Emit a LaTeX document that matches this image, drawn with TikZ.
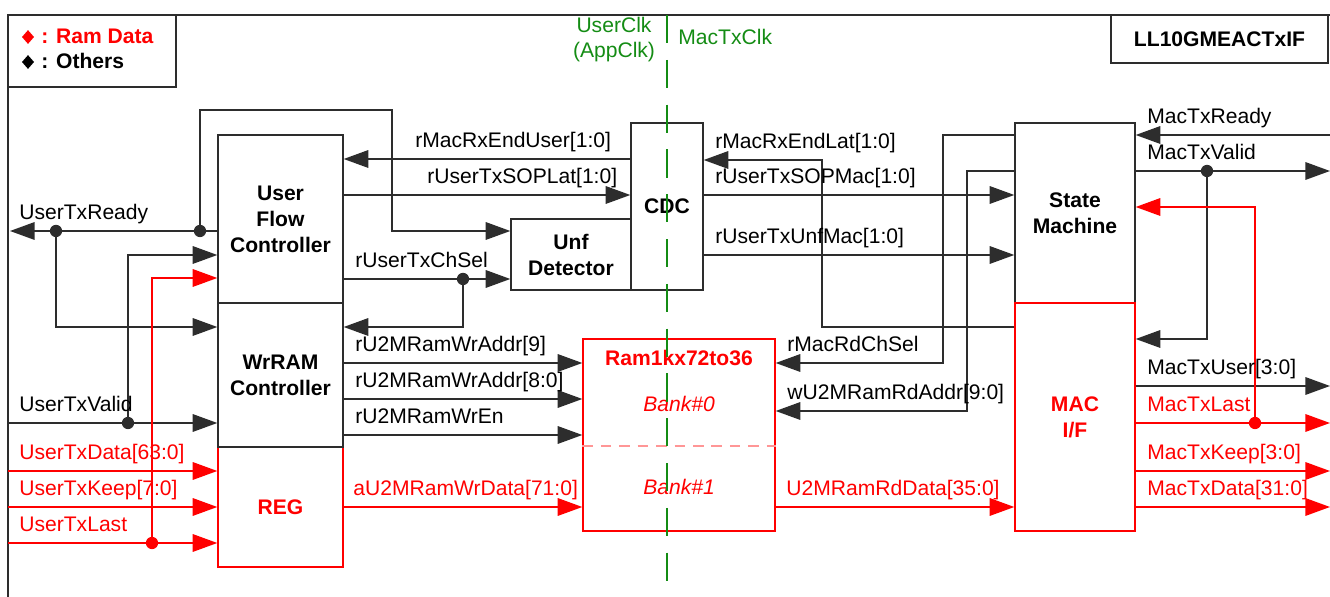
\documentclass[tikz,border=0pt]{standalone}
\usepackage{fontspec}
\setmainfont{Liberation Sans}
\usetikzlibrary{arrows.meta,shapes.geometric}
\definecolor{wcol}{RGB}{45,45,45}
\definecolor{rcol}{RGB}{255,0,0}
\definecolor{gcol}{RGB}{20,140,20}
\definecolor{pcol}{RGB}{255,150,150}
\begin{document}
\begin{tikzpicture}[x=0.02cm,y=-0.02cm,
  font=\fontsize{12}{14.8}\selectfont,
  blk/.style={draw=wcol, line width=0.8pt, inner sep=0pt, align=center, font=\fontsize{12}{14.8}\selectfont\bfseries},
  rblk/.style={blk, draw=rcol, text=rcol},
  wire/.style={draw=wcol, line width=0.8pt},
  arr/.style={wire, -{Triangle[length=14pt,width=10pt]}},
  rwire/.style={draw=rcol, line width=0.8pt},
  rarr/.style={rwire, -{Triangle[length=14pt,width=10pt]}},
  lbl/.style={anchor=base west, inner sep=0pt, text=black},
  rlbl/.style={lbl, text=rcol},
  dot/.style={circle, fill=wcol, inner sep=0pt, minimum size=7pt},
  rdot/.style={dot, fill=rcol},
  lgmark/.style={diamond, inner sep=0pt, minimum width=7pt, minimum height=8pt}
]
\useasboundingbox (0,0) rectangle (1330,597);

% outer frame
\coordinate (fBL) at (8,597);
\coordinate (fTL) at (8,15);
\coordinate (fTR) at (1330,15);
\draw[wcol, line width=0.8pt] (fBL) -- (fTL) -- (fTR);

% legend
\node[draw=wcol, line width=0.8pt, minimum width=3.36cm, minimum height=1.44cm, inner sep=0pt] (legend) at (92,51) {};
\node[lgmark, fill=rcol] (mkR) at (28,37) {};
\node[lgmark, fill=black] (mkB) at (28,62) {};
\node[rlbl, font=\fontsize{12}{14.8}\selectfont\bfseries] (lgR) at (41,44) {: Ram Data};
\node[lbl, font=\fontsize{12}{14.8}\selectfont\bfseries] (lgB) at (41,69) {: Others};

% title
\node[draw=wcol, line width=0.8pt, minimum width=4.34cm, minimum height=0.96cm, inner sep=0pt, font=\fontsize{12}{14.8}\selectfont\bfseries] (title) at (1219.5,39) {LL10GMEACTxIF};

% clock domain labels
\node[anchor=base, inner sep=0pt, text=gcol] (uclk) at (614,33) {UserClk};
\node[anchor=base, inner sep=0pt, text=gcol] (aclk) at (614,58) {(AppClk)};
\node[lbl, text=gcol] (mclk) at (678,45) {MacTxClk};

% blocks
\node[rblk, minimum width=2.5cm, minimum height=2.4cm] (reg) at (280.5,507) {REG};
\node[blk, minimum width=2.5cm, minimum height=3.36cm] (ufc) at (280.5,219) {User\\Flow\\Controller};
\node[blk, minimum width=2.5cm, minimum height=2.88cm] (wr) at (280.5,375) {WrRAM\\Controller};
\node[blk, minimum width=1.44cm, minimum height=3.34cm] (cdc) at (667,206.5) {CDC};
\node[blk, minimum width=2.4cm, minimum height=1.42cm] (unf) at (571,254.5) {Unf\\Detector};
\node[blk, minimum width=2.4cm, minimum height=3.6cm] (sm) at (1075,213) {State\\Machine};
\node[rblk, minimum width=2.4cm, minimum height=4.56cm] (mac) at (1075,417) {MAC\\I/F};
\node[rblk, minimum width=3.84cm, minimum height=3.84cm] (ram) at (679,435) {};
\node[anchor=base, inner sep=0pt, text=rcol, font=\fontsize{12}{14.8}\selectfont\bfseries] (ramt) at (679,366) {Ram1kx72to36};
\node[anchor=base, inner sep=0pt, text=rcol, font=\fontsize{12}{14.8}\selectfont\itshape] (b0) at (679,412) {Bank\#0};
\node[anchor=base, inner sep=0pt, text=rcol, font=\fontsize{12}{14.8}\selectfont\itshape] (b1) at (679,495) {Bank\#1};
\draw[pcol, line width=0.8pt, dash pattern=on 6pt off 4.5pt] (ram.west |- 0,446) -- (ram.east |- 0,446);

% ---- left side inputs/outputs
\coordinate (Lready) at (10,231);
\coordinate (Lvalid) at (8,423);
\coordinate (Ldata) at (8,471);
\coordinate (Lkeep) at (8,507);
\coordinate (Llast) at (8,543);
\draw[arr] (ufc.west |- 0,231) -- (Lready);
\node[dot] (j1) at (200,231) {};
\node[dot] (j2) at (56,231) {};
\draw[arr] (j1.center) -- (200,110) -- (392,110) -- (392,231) -- (unf.west |- 0,231);
\draw[arr] (j2.center) |- (wr.west |- 0,327);
\draw[arr] (Lvalid) -- (wr.west |- 0,423);
\node[dot] (j3) at (128,423) {};
\draw[arr] (j3.center) |- (ufc.west |- 0,255);
\draw[rarr] (Ldata) -- (reg.west |- 0,471);
\draw[rarr] (Lkeep) -- (reg.west |- 0,507);
\draw[rarr] (Llast) -- (reg.west |- 0,543);
\node[rdot] (j4) at (152,543) {};
\draw[rarr] (j4.center) |- (ufc.west |- 0,278);
\node[lbl] at (19,220) {UserTxReady};
\node[lbl] at (19,412) {UserTxValid};
\node[rlbl] at (19,460) {UserTxData[63:0]};
\node[rlbl] at (19,496) {UserTxKeep[7:0]};
\node[rlbl] at (19,532) {UserTxLast};

% ---- UFC / CDC / Unf
\draw[arr] (cdc.west |- 0,159) -- (ufc.east |- 0,159);
\draw[arr] (ufc.east |- 0,195) -- (cdc.west |- 0,195);
\draw[arr] (ufc.east |- 0,279) -- (unf.west |- 0,279);
\node[dot] (j5) at (463,279) {};
\draw[arr] (j5.center) |- (wr.east |- 0,327);
\node[lbl] at (415,148) {rMacRxEndUser[1:0]};
\node[lbl] at (427,184) {rUserTxSOPLat[1:0]};
\node[lbl] at (355,268) {rUserTxChSel};

% ---- WrRAM / REG -> RAM
\draw[arr] (wr.east |- 0,363) -- (ram.west |- 0,363);
\draw[arr] (wr.east |- 0,399) -- (ram.west |- 0,399);
\draw[arr] (wr.east |- 0,435) -- (ram.west |- 0,435);
\draw[rarr] (reg.east |- 0,507) -- (ram.west |- 0,507);
\node[lbl] at (355,352) {rU2MRamWrAddr[9]};
\node[lbl] at (355,388) {rU2MRamWrAddr[8:0]};
\node[lbl] at (355,424) {rU2MRamWrEn};
\node[rlbl] at (353,496) {aU2MRamWrData[71:0]};

% ---- CDC / RAM <-> SM / MAC
\draw[arr] (mac.west |- 0,327) -| (822,160) -- (cdc.east |- 0,160);
\draw[arr] (cdc.east |- 0,195) -- (sm.west |- 0,195);
\draw[arr] (cdc.east |- 0,255) -- (sm.west |- 0,255);
\draw[arr] (sm.west |- 0,135) -| (943,363) -- (ram.east |- 0,363);
\draw[arr] (sm.west |- 0,171) -| (967,411) -- (ram.east |- 0,411);
\draw[rarr] (ram.east |- 0,507) -- (mac.west |- 0,507);
\node[lbl] at (715,149) {rMacRxEndLat[1:0]};
\node[lbl] at (715,184) {rUserTxSOPMac[1:0]};
\node[lbl] at (715,244) {rUserTxUnfMac[1:0]};
\node[lbl] at (787,352) {rMacRdChSel};
\node[lbl] at (787,400) {wU2MRamRdAddr[9:0]};
\node[rlbl] at (786,496) {U2MRamRdData[35:0]};

% ---- right side
\coordinate (Rready) at (1330,135);
\coordinate (Rvalid) at (1330,171);
\coordinate (Ruser) at (1330,386);
\coordinate (Rlast) at (1330,423);
\coordinate (Rkeep) at (1330,471);
\coordinate (Rdata) at (1330,507);
\draw[arr] (Rready) -- (sm.east |- 0,135);
\draw[arr] (sm.east |- 0,171) -- (Rvalid);
\node[dot] (j6) at (1207,171) {};
\draw[arr] (j6.center) |- (mac.east |- 0,339);
\draw[arr] (mac.east |- 0,386) -- (Ruser);
\draw[rarr] (mac.east |- 0,423) -- (Rlast);
\node[rdot] (j7) at (1255,423) {};
\draw[rarr] (j7.center) |- (sm.east |- 0,207);
\draw[rarr] (mac.east |- 0,471) -- (Rkeep);
\draw[rarr] (mac.east |- 0,507) -- (Rdata);
\node[lbl] at (1147,124) {MacTxReady};
\node[lbl] at (1147,160) {MacTxValid};
\node[lbl] at (1147,375) {MacTxUser[3:0]};
\node[rlbl] at (1147,412) {MacTxLast};
\node[rlbl] at (1147,460) {MacTxKeep[3:0]};
\node[rlbl] at (1147,496) {MacTxData[31:0]};

% clock boundary
\coordinate (clkT) at (667,15);
\coordinate (clkB) at (667,597);
\draw[gcol, line width=0.9pt, dash pattern=on 16pt off 9.5pt] (clkT) -- (clkB);
\end{tikzpicture}
\end{document}
